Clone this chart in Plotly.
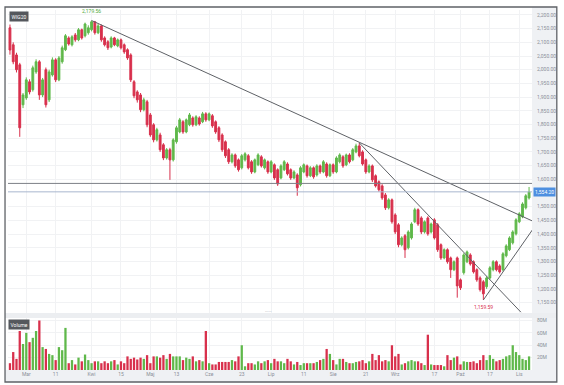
import plotly.graph_objects as go
from plotly.subplots import make_subplots

symbol = "WIG20"

opens = [2153,2091,2054,2018,1872,1897,1956,1927,1992,2029,
         1908,2000,1890,1981,2036,1963,2029,2073,2116,2091,
         2127,2109,2146,2124,2135,2146,2175,2135,2160,2116,
         2102,2083,2116,2087,2109,2091,2073,2054,1956,1919,
         1908,1854,1883,1835,1799,1744,1762,1726,1678,1708,
         1671,1737,1773,1810,1773,1799,1824,1799,1824,1810,
         1839,1817,1832,1810,1788,1762,1737,1708,1664,1689,
         1671,1642,1671,1686,1664,1627,1653,1682,1642,1664,
         1627,1653,1635,1605,1635,1656,1635,1605,1616,1580,
         1627,1649,1613,1642,1616,1649,1627,1656,1613,1653,
         1627,1664,1682,1653,1689,1671,1700,1722,1700,1671,
         1627,1649,1613,1591,1576,1543,1496,1525,1470,1434,
         1361,1394,1350,1386,1445,1489,1459,1408,1459,1408,
         1452,1434,1361,1313,1343,1313,1270,1313,1233,1259,
         1299,1324,1299,1270,1240,1226,1208,1240,1270,1299,
         1284,1270,1321,1343,1368,1401,1445,1463,1496,1532]
closes = [2072,2029,2000,1788,1908,1963,1919,2007,2029,1908,
          1963,1872,1992,2036,1963,2043,2080,2124,2094,2120,
          2109,2146,2116,2167,2153,2175,2135,2160,2109,2091,
          2080,2116,2091,2109,2080,2065,2043,1963,1905,1890,
          1854,1890,1799,1762,1744,1781,1708,1678,1708,1671,
          1744,1788,1817,1773,1817,1835,1799,1828,1802,1839,
          1817,1839,1795,1773,1744,1708,1686,1664,1689,1649,
          1635,1686,1693,1642,1627,1671,1689,1649,1671,1627,
          1664,1605,1583,1649,1664,1620,1605,1627,1569,1642,
          1653,1613,1642,1609,1649,1627,1664,1613,1653,1627,
          1678,1689,1649,1689,1664,1708,1722,1686,1656,1627,
          1649,1598,1576,1562,1532,1496,1525,1445,1408,1361,
          1386,1343,1408,1437,1489,1437,1408,1445,1401,1437,
          1386,1343,1313,1343,1299,1270,1299,1211,1204,1324,
          1335,1291,1262,1233,1197,1182,1240,1277,1299,1270,
          1262,1328,1357,1386,1408,1452,1474,1510,1540,1554.2]
highs = [2165,2100,2062,2025,1915,1972,1965,2015,2038,2035,
         1970,2008,2000,2045,2042,2050,2088,2130,2122,2126,
         2134,2152,2150,2172,2162,2179.56,2178,2168,2165,2122,
         2108,2122,2120,2114,2114,2096,2078,2060,1962,1925,
         1915,1898,1890,1842,1805,1788,1770,1732,1714,1715,
         1750,1795,1824,1816,1822,1842,1830,1834,1830,1846,
         1845,1844,1838,1815,1794,1768,1742,1714,1695,1694,
         1676,1692,1699,1692,1670,1676,1695,1688,1676,1669,
         1670,1658,1640,1655,1670,1662,1640,1633,1622,1648,
         1658,1654,1648,1647,1655,1654,1670,1662,1658,1658,
         1684,1695,1688,1694,1695,1714,1730,1733,1706,1676,
         1655,1654,1618,1596,1582,1550,1531,1530,1476,1440,
         1392,1400,1414,1443,1496,1494,1465,1450,1465,1442,
         1458,1440,1366,1348,1348,1318,1304,1318,1238,1330,
         1340,1330,1304,1275,1246,1232,1246,1283,1305,1304,
         1290,1334,1363,1392,1414,1458,1480,1516,1546,1572]
lows = [2055,2020,1990,1755,1860,1890,1910,1920,1985,1890,
        1900,1862,1882,1975,1955,1958,2022,2068,2088,2085,
        2102,2104,2110,2118,2128,2140,2128,2130,2102,2085,
        2072,2078,2086,2082,2074,2058,2036,1955,1896,1880,
        1845,1848,1790,1755,1735,1738,1700,1670,1672,1598,
        1665,1730,1768,1766,1768,1794,1792,1794,1796,1805,
        1810,1812,1788,1766,1736,1700,1678,1656,1658,1642,
        1628,1636,1665,1636,1620,1622,1648,1643,1636,1620,
        1622,1598,1576,1600,1630,1614,1598,1600,1540,1574,
        1622,1606,1608,1602,1610,1620,1622,1606,1608,1620,
        1622,1658,1642,1648,1658,1666,1695,1680,1650,1620,
        1622,1590,1570,1555,1525,1488,1490,1438,1400,1352,
        1355,1313,1344,1380,1440,1430,1400,1402,1394,1402,
        1380,1335,1306,1308,1292,1240,1265,1168,1196,1252,
        1294,1285,1256,1226,1190,1159.59,1200,1234,1264,1264,
        1256,1264,1315,1338,1362,1395,1440,1458,1490,1526]
volumes = [11,29,18,63,42,60,45,52,63,80,
           37,34,26,24,16,37,32,68,11,16,
           9,20,14,25,16,11,14,14,11,14,
           11,14,16,9,14,11,22,18,20,17,
           20,18,24,11,22,22,20,24,18,26,
           22,22,22,16,20,18,22,14,16,14,
           63,11,9,9,13,13,13,13,16,14,
           22,40,6,11,11,9,14,11,14,16,
           11,18,14,14,11,18,14,9,13,8,
           11,11,11,11,13,16,18,34,26,16,
           9,18,18,13,11,11,13,14,16,11,
           14,26,16,24,14,16,14,40,22,26,
           9,11,14,16,14,14,11,8,57,9,
           8,8,8,6,24,16,20,22,9,14,
           13,13,14,11,16,24,16,24,18,14,
           16,18,22,24,40,29,24,18,16,22]

tick_idx = [5, 14, 25, 34, 43, 51, 61, 71, 80, 90, 99, 109, 118, 130, 138, 147, 156]
tick_text = ["Mar", "11", "Kwi", "15", "Maj", "13", "Cze", "23", "Lip", "11",
             "Sie", "21", "Wrz", "17", "Paź", "17", "Lis"]
price_ticks = [1150, 1200, 1250, 1300, 1350, 1400, 1450, 1500, 1550, 1600, 1650,
               1700, 1750, 1800, 1850, 1900, 1950, 2000, 2050, 2100, 2150, 2200]

trend1_x, trend1_y = [25, 160], [2179.56, 1448]
trend2_x, trend2_y = [107, 156.5], [1733, 1115]
trend3_x, trend3_y = [145, 160], [1159.59, 1415]
level_price = 1585
vol_ticks = [20, 40, 60, 80]

UP = "#5fb84a"
DOWN = "#d8304c"
GRID = "#f1f2f4"
STRIP = "#eff1f4"
TXT = "#8a8f98"
FONT = "Roboto"

n = len(closes)
idx = list(range(n))
vol_colors = [UP if c >= o else DOWN for o, c in zip(opens, closes)]
# the last-price tag hides the axis label it sits on
shown_ticks = [v for v in price_ticks if abs(v - closes[-1]) > 15]

fig = make_subplots(rows=2, cols=1, shared_xaxes=True, vertical_spacing=0)

fig.add_trace(go.Candlestick(
    x=idx, open=opens, high=highs, low=lows, close=closes,
    increasing=dict(line=dict(color=UP, width=1), fillcolor=UP),
    decreasing=dict(line=dict(color=DOWN, width=1), fillcolor=DOWN),
    whiskerwidth=0, showlegend=False, hoverinfo="skip"), row=1, col=1)

for tx, ty in [(trend1_x, trend1_y), (trend2_x, trend2_y), (trend3_x, trend3_y)]:
    fig.add_trace(go.Scatter(x=tx, y=ty, mode="lines",
                             line=dict(color="#5e6166", width=1),
                             showlegend=False, hoverinfo="skip"), row=1, col=1)

fig.add_trace(go.Bar(x=idx, y=volumes, marker=dict(color=vol_colors, line=dict(width=0)),
                     showlegend=False, hoverinfo="skip"), row=2, col=1)

def px_x(p):
    return (p - 8) / 528.0

def px_y(p):
    return (370 - p) / 360.0

shapes = [
    dict(type="rect", xref="paper", yref="paper", x0=px_x(5), x1=px_x(561),
         y0=px_y(382), y1=px_y(7), line=dict(color="#5f6267", width=1.3), layer="above"),
    dict(type="rect", xref="paper", yref="paper", x0=px_x(536), x1=px_x(561),
         y0=px_y(382), y1=px_y(7), fillcolor=STRIP, line=dict(width=0), layer="below"),
    dict(type="rect", xref="paper", yref="paper", x0=px_x(5), x1=px_x(561),
         y0=px_y(382), y1=px_y(370), fillcolor=STRIP, line=dict(width=0), layer="below"),
    dict(type="rect", xref="paper", yref="paper", x0=px_x(5), x1=px_x(561),
         y0=px_y(318), y1=px_y(313), fillcolor="#eceef1", line=dict(width=0), layer="below"),
    dict(type="line", xref="paper", yref="y", x0=0, x1=1, y0=level_price, y1=level_price,
         line=dict(color="#7d8087", width=1)),
    dict(type="line", xref="paper", yref="y", x0=0, x1=1, y0=closes[-1], y1=closes[-1],
         line=dict(color="#a9b6cf", width=1)),
]

annotations = [
    dict(xref="paper", yref="paper", x=px_x(9), y=px_y(11), xanchor="left", yanchor="top",
         text=symbol, showarrow=False, bgcolor="#55585d", borderpad=1.5,
         font=dict(family=FONT, size=5, color="white")),
    dict(xref="paper", yref="paper", x=px_x(8), y=px_y(319), xanchor="left", yanchor="top",
         text="Volume", showarrow=False, bgcolor="#55585d", borderpad=1.5,
         font=dict(family=FONT, size=5, color="white")),
    dict(x=idx[highs.index(max(highs))], y=max(highs), xref="x", yref="y", yshift=5,
         yanchor="bottom", text=f"{max(highs):,.2f}", showarrow=False,
         font=dict(family=FONT, size=5, color="#4da83a")),
    dict(x=idx[lows.index(min(lows))], y=min(lows), xref="x", yref="y", yshift=-2,
         yanchor="top", text=f"{min(lows):,.2f}", showarrow=False,
         font=dict(family=FONT, size=5, color="#d8304c")),
    dict(xref="paper", yref="y", x=px_x(537), y=closes[-1], xanchor="left", yanchor="middle",
         text=f"{closes[-1]:,.2f}", showarrow=False, bgcolor="#4d8fe0", borderpad=1,
         font=dict(family=FONT, size=5, color="white")),
    dict(xref="paper", yref="paper", x=px_x(270), y=px_y(315.5), text="·····",
         showarrow=False, font=dict(family=FONT, size=5, color="#8a8f98")),
]

fig.update_layout(
    width=564, height=385,
    margin=dict(l=8, r=28, t=10, b=15),
    paper_bgcolor="white", plot_bgcolor="white",
    font=dict(family=FONT, size=5, color=TXT),
    shapes=shapes, annotations=annotations,
    bargap=0.3, boxgap=0.2,
    showlegend=False,
)

xr = [-0.6, 159.9]
fig.update_xaxes(range=xr, showgrid=True, gridcolor=GRID, gridwidth=1,
                 tickmode="array", tickvals=tick_idx, ticktext=tick_text,
                 zeroline=False, showline=False, ticks="",
                 rangeslider=dict(visible=False))
fig.update_xaxes(showticklabels=False, row=1, col=1)
fig.update_xaxes(showticklabels=True, tickfont=dict(size=5, color=TXT), row=2, col=1)

fig.update_layout(
    yaxis=dict(domain=[px_y(313), 1], side="right", range=[1112, 2218],
               tickmode="array", tickvals=shown_ticks,
               tickformat=",.2f", showgrid=True, gridcolor=GRID, zeroline=False,
               tickfont=dict(size=5, color=TXT), ticks="", ticklabelstandoff=4),
    yaxis2=dict(domain=[0, px_y(318)], side="right", range=[0, 84],
                tickvals=vol_ticks, ticktext=[f"{v}M" for v in vol_ticks],
                showgrid=True, gridcolor=GRID, zeroline=False,
                tickfont=dict(size=5, color=TXT), ticks="", ticklabelstandoff=4),
)

fig.write_html("out.html")
